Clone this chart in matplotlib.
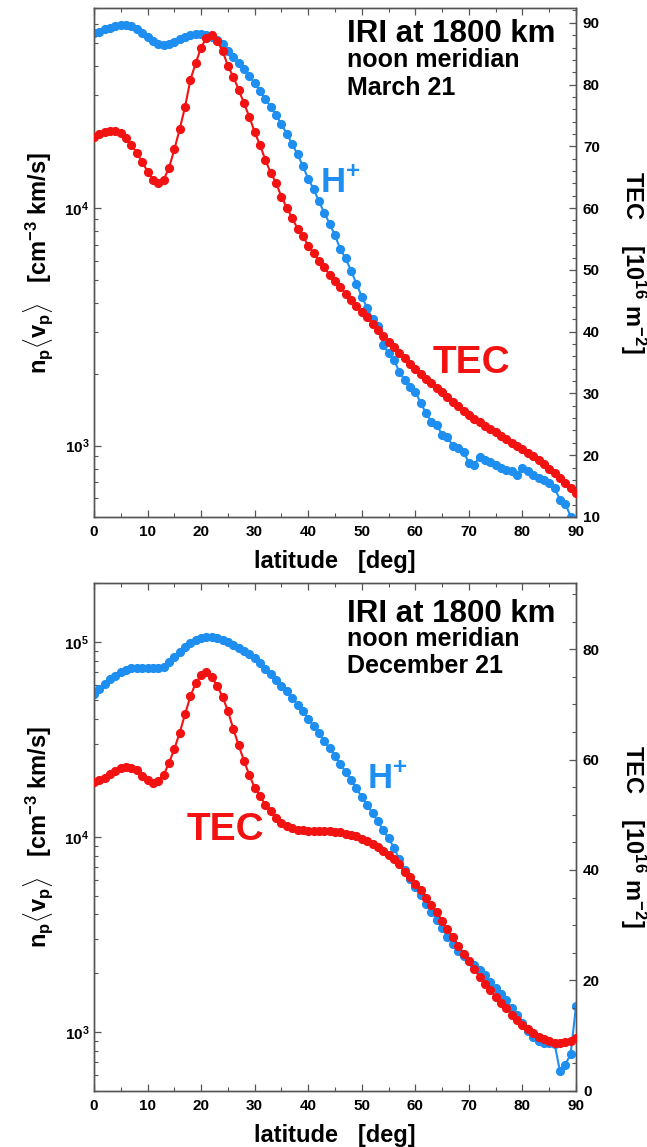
#!/usr/bin/env python3

import numpy as np
import matplotlib

matplotlib.use("Agg")
import matplotlib.pyplot as plt
from matplotlib.ticker import MultipleLocator, NullFormatter

plt.rcParams["font.family"] = ["Liberation Sans", "DejaVu Sans"]
plt.rcParams["font.weight"] = "bold"
plt.rcParams["axes.labelweight"] = "bold"
plt.rcParams["mathtext.fontset"] = "custom"
plt.rcParams["mathtext.rm"] = "Liberation Sans:bold"
plt.rcParams["mathtext.it"] = "Liberation Sans:bold"
plt.rcParams["mathtext.bf"] = "Liberation Sans:bold"
plt.rcParams["axes.unicode_minus"] = False

latitude = np.arange(0, 91)

# March 21: H+ flux [cm^-3 km/s] and TEC [1e16 m^-2]
march_hplus = [
    54800, 55700, 57000, 57900, 58900, 59400, 59400, 58600, 57000, 54800,
    52600, 50600, 49300, 48900, 49300, 50200, 51800, 53000, 53800, 54300,
    54300, 54000, 53000, 51300, 49300, 46200, 43600, 41000, 38700, 36300,
    33700, 31300, 28900, 26800, 24700, 22700, 20600, 18700, 16900, 15100,
    13300, 12100, 10700, 9600, 8610, 7690, 6730, 6150, 5460, 4820,
    4240, 3810, 3410, 3200, 2660, 2450, 2300, 2050, 1890, 1770,
    1690, 1510, 1370, 1260, 1220, 1110, 1090, 991, 975, 944,
    843, 830, 899, 871, 849, 830, 804, 791, 778, 753,
    804, 778, 753, 729, 718, 695, 662, 592, 569, 502,
    355,
]
march_tec = [
    71.5, 72.0, 72.4, 72.5, 72.5, 72.1, 71.3, 70.2, 68.9, 67.5,
    65.9, 64.6, 64.0, 64.6, 66.5, 69.5, 72.8, 76.4, 80.8, 83.5,
    86.0, 87.6, 88.0, 87.0, 85.5, 83.0, 81.3, 79.2, 77.0, 74.8,
    72.3, 70.2, 67.8, 65.7, 64.1, 61.8, 60.1, 58.4, 56.7, 55.5,
    53.9, 52.7, 51.5, 50.4, 49.2, 48.2, 47.2, 46.1, 45.1, 44.1,
    43.2, 42.3, 41.3, 40.3, 39.3, 38.4, 37.5, 36.5, 35.7, 34.8,
    34.0, 33.2, 32.4, 31.7, 30.9, 30.2, 29.4, 28.6, 27.9, 27.2,
    26.5, 25.9, 25.3, 24.7, 24.2, 23.7, 23.1, 22.6, 22.0, 21.5,
    21.0, 20.4, 19.8, 19.2, 18.5, 17.8, 17.1, 16.3, 15.5, 14.7,
    13.8,
]

# December 21
december_hplus = [
    54100, 57400, 61000, 64100, 67100, 69800, 71800, 73300, 73600, 73600,
    73600, 73300, 73500, 74600, 78500, 83400, 88300, 93800, 98200, 102300,
    104700, 105400, 105400, 104200, 102300, 99300, 96400, 93100, 89300, 86100,
    82200, 77600, 72900, 68400, 63500, 59600, 55600, 51500, 47600, 44000,
    40400, 37000, 33900, 31000, 28400, 25900, 23600, 21400, 19500, 17700,
    16000, 14600, 13200, 12000, 10800, 9820, 8810, 7670, 6730, 6110,
    5550, 5010, 4540, 4120, 3750, 3400, 3080, 2830, 2600, 2450,
    2320, 2200, 2070, 1950, 1810, 1670, 1560, 1450, 1330, 1220,
    1110, 1010, 944, 902, 881, 875, 871, 628, 679, 773,
    1360,
]
december_tec = [
    56.0, 56.3, 56.7, 57.3, 57.9, 58.4, 58.7, 58.5, 58.1, 57.0,
    56.3, 55.8, 56.1, 57.2, 59.4, 61.9, 64.9, 68.2, 71.5, 73.9,
    75.3, 75.9, 75.0, 73.3, 71.4, 68.8, 65.6, 62.6, 59.8, 57.2,
    54.9, 53.4, 51.8, 50.6, 49.5, 48.6, 48.0, 47.6, 47.3, 47.2,
    47.1, 47.1, 47.1, 47.0, 47.0, 46.9, 46.8, 46.6, 46.4, 46.1,
    45.7, 45.2, 44.7, 44.1, 43.5, 42.7, 41.9, 41.0, 39.6, 38.7,
    37.5, 36.3, 35.0, 33.7, 32.3, 30.8, 29.3, 27.8, 26.3, 24.8,
    23.5, 22.1, 20.6, 19.4, 18.2, 17.0, 15.9, 14.9, 13.8, 12.8,
    11.9, 11.1, 10.4, 9.8, 9.3, 9.0, 8.7, 8.7, 8.8, 9.0,
    9.5,
]

BLUE = "#1e8ef0"
RED = "#f21212"
SPINE = "#555555"


def style_ticks(ax):
    for side in ax.spines.values():
        side.set_color(SPINE)
        side.set_linewidth(1.0)
    ax.tick_params(which="both", direction="in", colors=SPINE,
                   labelcolor="black", labelsize=11)
    ax.tick_params(which="major", length=5, width=0.9)
    ax.tick_params(which="minor", length=3, width=0.8)


def bold_ticks(ax):
    labels = ax.get_xticklabels() + ax.get_yticklabels()
    plt.setp(labels, fontweight="bold")


def draw_panel(rect, hplus, tec, left_lim, right_lim, right_major, right_minor,
               date, title_y, hplus_pos, tec_pos):
    ax = fig.add_axes(rect)
    ax.plot(latitude, hplus, "-o", color=BLUE, ms=5.6, lw=1.5, zorder=3)
    ax.set_yscale("log")
    ax.set_ylim(*left_lim)
    ax.set_xlim(0, 90)
    ax.xaxis.set_major_locator(MultipleLocator(10))
    ax.xaxis.set_minor_locator(MultipleLocator(5))
    ax.yaxis.set_minor_formatter(NullFormatter())
    ax.tick_params(axis="x", which="both", top=True)
    style_ticks(ax)
    ax.tick_params(axis="x", pad=6)
    ax.set_xlabel("latitude   [deg]", fontsize=17, labelpad=8)
    ax.set_ylabel(r"n$_\mathregular{p}$$\langle$v$_\mathregular{p}$$\rangle$"
                  r"   [cm$^\mathregular{-3}$ km/s]", fontsize=17, labelpad=6)

    tx = ax.twinx()
    tx.plot(latitude, tec, "-o", color=RED, ms=5.6, lw=1.5, zorder=3)
    tx.set_ylim(*right_lim)
    tx.yaxis.set_major_locator(MultipleLocator(right_major))
    tx.yaxis.set_minor_locator(MultipleLocator(right_minor))
    style_ticks(tx)
    tx.tick_params(axis="y", pad=5)
    tx.set_ylabel(r"TEC    [10$^\mathregular{16}$ m$^\mathregular{-2}$]",
                  fontsize=17, rotation=270, labelpad=35)
    bold_ticks(ax)
    bold_ticks(tx)

    lines = ["IRI at 1800 km", "noon meridian", date]
    sizes = [22.5, 18, 18]
    for text, y, size in zip(lines, title_y, sizes):
        tx.text(0.524, y, text, transform=ax.transAxes,
                fontsize=size, va="baseline")
    tx.text(hplus_pos[0], hplus_pos[1], r"H$^\mathregular{+}$",
            transform=ax.transAxes, fontsize=25, color=BLUE, va="baseline")
    tx.text(tec_pos[0], tec_pos[1], "TEC", transform=ax.transAxes,
            fontsize=28, color=RED, va="baseline")


fig = plt.figure(figsize=(6.47, 11.47), dpi=100)

draw_panel([0.1453, 0.5493, 0.745, 0.4437], march_hplus, march_tec,
           (500, 70000), (10, 92.4), 10, 2, "March 21",
           [0.933, 0.885, 0.829], (0.469, 0.639), (0.703, 0.283))
draw_panel([0.1453, 0.0491, 0.745, 0.4426], december_hplus, december_tec,
           (500, 200000), (0, 92), 20, 5, "December 21",
           [0.924, 0.875, 0.823], (0.566, 0.596), (0.193, 0.494))

fig.savefig("out.png", dpi=100, facecolor="white")
